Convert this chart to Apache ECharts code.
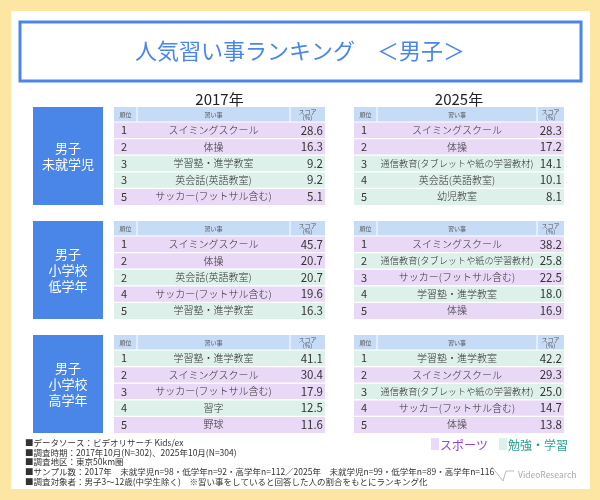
<!DOCTYPE html>
<html><head><meta charset="utf-8">
<script src="https://cdn.jsdelivr.net/npm/echarts@6/dist/echarts.min.js"></script>
<style>html,body{margin:0;padding:0;background:#fde5a3}#c{width:600px;height:500px}</style>
</head><body><div id="c"></div>
<script>
const years = ['2017年', '2025年'];
const groups = ['男子\n未就学児', '男子\n小学校\n低学年', '男子\n小学校\n高学年'];
const ranks2017 = [[1,2,3,3,5],[1,2,2,4,5],[1,2,3,4,5]];
const items2017 = [
  ['スイミングスクール','体操','学習塾・進学教室','英会話(英語教室)','サッカー(フットサル含む)'],
  ['スイミングスクール','体操','英会話(英語教室)','サッカー(フットサル含む)','学習塾・進学教室'],
  ['学習塾・進学教室','スイミングスクール','サッカー(フットサル含む)','習字','野球']];
const scores2017 = [[28.6,16.3,9.2,9.2,5.1],[45.7,20.7,20.7,19.6,16.3],[41.1,30.4,17.9,12.5,11.6]];
const types2017 = [['s','s','e','e','s'],['s','s','e','s','e'],['e','s','s','e','s']];
const ranks2025 = [[1,2,3,4,5],[1,2,3,4,5],[1,2,3,4,5]];
const items2025 = [
  ['スイミングスクール','体操','通信教育(タブレットや紙の学習教材)','英会話(英語教室)','幼児教室'],
  ['スイミングスクール','通信教育(タブレットや紙の学習教材)','サッカー(フットサル含む)','学習塾・進学教室','体操'],
  ['学習塾・進学教室','スイミングスクール','通信教育(タブレットや紙の学習教材)','サッカー(フットサル含む)','体操']];
const scores2025 = [[28.3,17.2,14.1,10.1,8.1],[38.2,25.8,22.5,18.0,16.9],[42.2,29.3,25.0,14.7,13.8]];
const types2025 = [['s','s','e','e','e'],['s','e','s','e','s'],['e','s','e','s','s']];
const notes = [
 '■データソース：ビデオリサーチ Kids/ex',
 '■調査時期：2017年10月(N=302)、2025年10月(N=304)',
 '■調査地区：東京50km圏',
 '■サンプル数：2017年　未就学児n=98・低学年n=92・高学年n=112／2025年　未就学児n=99・低学年n=89・高学年n=116',
 '■調査対象者：男子3～12歳(中学生除く)　※習い事をしていると回答した人の割合をもとにランキング化'];

const F = '"Noto Sans CJK JP","Noto Sans",sans-serif';
const BLUE = '#4a86e8', PUR = '#ead8f7', GRN = '#ddf1ea', HDR = '#c6dbf6';
const g = [];
g.push({type:'rect',shape:{x:11,y:11,width:579,height:478},style:{fill:'#fff'}});
g.push({type:'rect',shape:{x:20,y:22,width:561,height:59},style:{fill:'#fff',stroke:BLUE,lineWidth:3}});
g.push({type:'text',x:300,y:51,style:{text:'人気習い事ランキング　＜男子＞',font:'22px '+F,fill:BLUE,align:'center',verticalAlign:'middle'}});
const tables = [
  {x:114,w:211,rc:23,sc:35,ranks:ranks2017,items:items2017,scores:scores2017,types:types2017},
  {x:354,w:210,rc:23,sc:27,ranks:ranks2025,items:items2025,scores:scores2025,types:types2025}];
tables.forEach((t,ti)=>{
  g.push({type:'text',x:t.x+t.w/2,y:99,style:{text:years[ti],font:'15px '+F,fill:'#222',align:'center',verticalAlign:'middle'}});
});
const top0 = 107, bstep = 114, hh = 15, rh = 16.6;
groups.forEach((gn,gi)=>{
  const y0 = top0 + gi*bstep;
  g.push({type:'rect',shape:{x:33,y:y0,width:70,height:hh+5*rh},style:{fill:BLUE}});
  g.push({type:'text',x:68,y:y0+(hh+5*rh)/2,style:{text:gn,font:'13px '+F,fill:'#fff',align:'center',verticalAlign:'middle',lineHeight:16}});
  tables.forEach(t=>{
    const ix = t.x+t.rc, iw = t.w-t.rc-t.sc;
    g.push({type:'rect',shape:{x:t.x,y:y0,width:t.w,height:hh},style:{fill:HDR}});
    g.push({type:'line',shape:{x1:ix,y1:y0,x2:ix,y2:y0+hh},style:{stroke:'#fff',lineWidth:1}});
    g.push({type:'line',shape:{x1:ix+iw,y1:y0,x2:ix+iw,y2:y0+hh},style:{stroke:'#fff',lineWidth:1}});
    g.push({type:'text',x:t.x+t.rc/2,y:y0+hh/2,style:{text:'順位',font:'6px '+F,fill:'#555',align:'center',verticalAlign:'middle'}});
    g.push({type:'text',x:ix+iw/2,y:y0+hh/2,style:{text:'習い事',font:'6px '+F,fill:'#555',align:'center',verticalAlign:'middle'}});
    g.push({type:'text',x:ix+iw+t.sc/2,y:y0+hh/2,style:{text:'スコア\n(%)',font:'6px '+F,fill:'#555',align:'center',verticalAlign:'middle',lineHeight:6}});
    for(let r=0;r<5;r++){
      const y = y0+hh+r*rh;
      g.push({type:'rect',shape:{x:t.x,y:y,width:t.w,height:rh},style:{fill:t.types[gi][r]==='s'?PUR:GRN}});
      g.push({type:'line',shape:{x1:t.x,y1:y,x2:t.x+t.w,y2:y},style:{stroke:'#fff',lineWidth:1.2}});
      g.push({type:'text',x:t.x+7,y:y+rh/2,style:{text:String(t.ranks[gi][r]),font:'11px '+F,fill:'#333',verticalAlign:'middle'}});
      const it = t.items[gi][r];
      g.push({type:'text',x:ix+iw/2,y:y+rh/2,style:{text:it,font:(it.length>14?'300 9.2px ':'300 10px ')+F,fill:'#333',align:'center',verticalAlign:'middle'}});
      g.push({type:'text',x:t.x+t.w-2,y:y+rh/2,style:{text:t.scores[gi][r].toFixed(1),font:'11.5px '+F,fill:'#333',align:'right',verticalAlign:'middle'}});
    }
  });
});
notes.forEach((n,i)=>{
  g.push({type:'text',x:25,y:443+i*9.6,style:{text:n,font:'8.5px '+F,fill:'#333',verticalAlign:'middle'}});
});
g.push({type:'rect',shape:{x:431,y:438,width:8,height:12},style:{fill:PUR}});
g.push({type:'text',x:440,y:445,style:{text:'スポーツ',font:'12px '+F,fill:'#8e44d6',verticalAlign:'middle'}});
g.push({type:'rect',shape:{x:499,y:438,width:8,height:12},style:{fill:GRN}});
g.push({type:'text',x:508,y:445,style:{text:'勉強・学習',font:'12px '+F,fill:'#2a9d8f',verticalAlign:'middle'}});
g.push({type:'polyline',shape:{points:[[492,467],[503,481],[506,471],[514,471]]},style:{stroke:'#bbb',fill:null,lineWidth:1}});
g.push({type:'text',x:518,y:475,style:{text:'VideoResearch',font:'8.5px '+F,fill:'#aaa',verticalAlign:'middle'}});

const chart = echarts.init(document.getElementById('c'));
chart.setOption({backgroundColor:'#fde5a3',graphic:{elements:g}});
</script></body></html>
